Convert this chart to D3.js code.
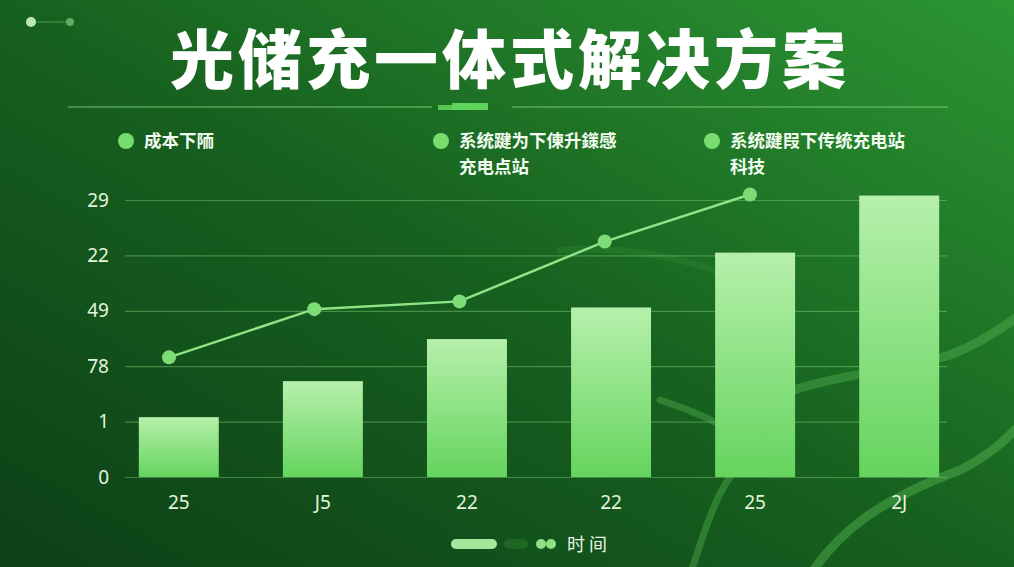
<!DOCTYPE html>
<html>
<head>
<meta charset="utf-8">
<script src="https://cdn.jsdelivr.net/npm/d3@7"></script>
<style>
body { margin: 0; background: #14561f; }
svg { display: block; font-family: "Noto Sans CJK SC", "Noto Sans", sans-serif; }
.grid line { stroke: #7fcf78; stroke-opacity: 0.45; stroke-width: 1.2; }
.tick text { fill: #e4f4df; font-size: 19px; font-family: "Noto Sans", "Noto Sans CJK SC", sans-serif; }
</style>
</head>
<body>
<script>
var w = 1014;
var h = 567;

// data
var title = "光储充一体式解决方案";
var categories = ["25", "J5", "22", "22", "25", "2J"];
var barValues = [1.08, 1.73, 2.49, 3.06, 4.05, 5.08];
var lineValues = [2.16, 3.03, 3.17, 4.25, 5.1];
var yTickLabels = ["0", "1", "78", "49", "22", "29"];
var legendItems = [
    ["成本下陑"],
    ["系统踺为下倲升鏼感", "充电点站"],
    ["系统踺叚下传统充电站", "科技"]
];
var axisName = "时 间";

var svg = d3.select("body")
    .append("svg")
    .attr("width", w)
    .attr("height", h);

var defs = svg.append("defs");

var bg = defs.append("linearGradient")
    .attr("id", "bg")
    .attr("x1", "0").attr("y1", "1")
    .attr("x2", "1").attr("y2", "0");
bg.append("stop").attr("offset", "0%").attr("stop-color", "#0d4017");
bg.append("stop").attr("offset", "50%").attr("stop-color", "#17611f");
bg.append("stop").attr("offset", "100%").attr("stop-color", "#2c9633");

var barGrad = defs.append("linearGradient")
    .attr("id", "barGrad")
    .attr("x1", "0").attr("y1", "0")
    .attr("x2", "0").attr("y2", "1");
barGrad.append("stop").attr("offset", "0%").attr("stop-color", "#b6f0ab");
barGrad.append("stop").attr("offset", "100%").attr("stop-color", "#65d45e");

svg.append("rect")
    .attr("width", w)
    .attr("height", h)
    .attr("fill", "url(#bg)");

// background swooshes
var deco = svg.append("g")
    .attr("fill", "none")
    .attr("stroke", "#5fc25a")
    .attr("stroke-linecap", "round");
deco.append("path")
    .attr("d", "M690,575 C705,530 715,495 735,470 C760,440 720,420 660,400")
    .attr("stroke-width", 7).attr("stroke-opacity", 0.35);
deco.append("path")
    .attr("d", "M810,575 C840,530 880,500 960,470 C990,455 1005,440 1020,425")
    .attr("stroke-width", 9).attr("stroke-opacity", 0.4);
deco.append("path")
    .attr("d", "M780,395 C830,375 900,370 950,355 C975,345 1000,330 1020,315")
    .attr("stroke-width", 9).attr("stroke-opacity", 0.35);
deco.append("path")
    .attr("d", "M560,250 C640,245 700,260 790,300")
    .attr("stroke-width", 7).attr("stroke-opacity", 0.12);

// top-left ornament
svg.append("circle").attr("cx", 31).attr("cy", 22).attr("r", 5).attr("fill", "#b9e8b6");
svg.append("line").attr("x1", 36).attr("y1", 22).attr("x2", 66).attr("y2", 22)
    .attr("stroke", "#6fbf6a").attr("stroke-opacity", 0.6);
svg.append("circle").attr("cx", 70).attr("cy", 22).attr("r", 4).attr("fill", "#5fae5d");

// title
svg.append("text")
    .attr("x", 510)
    .attr("y", 83)
    .attr("text-anchor", "middle")
    .attr("fill", "#ffffff")
    .style("font-size", "64px")
    .style("font-weight", "900")
    .style("letter-spacing", "4px")
    .text(title);

// divider
svg.append("line").attr("x1", 68).attr("x2", 432).attr("y1", 107).attr("y2", 107)
    .attr("stroke", "#7fcf78").attr("stroke-opacity", 0.6).attr("stroke-width", 1.5);
svg.append("line").attr("x1", 512).attr("x2", 948).attr("y1", 107).attr("y2", 107)
    .attr("stroke", "#7fcf78").attr("stroke-opacity", 0.6).attr("stroke-width", 1.5);
svg.append("rect").attr("x", 438).attr("y", 105).attr("width", 14).attr("height", 5)
    .attr("fill", "#58c454");
svg.append("rect").attr("x", 452).attr("y", 103).attr("width", 36).attr("height", 7)
    .attr("fill", "#5fd45a");

// legend
var legendX = [126, 441, 712];
var legend = svg.selectAll(".legend")
    .data(legendItems)
    .enter()
    .append("g")
    .attr("class", "legend")
    .attr("transform", function(d, i) { return "translate(" + legendX[i] + ",141)"; });
legend.append("circle")
    .attr("r", 8)
    .attr("fill", "#78dc6f");
legend.append("text")
    .attr("fill", "#f2fbef")
    .style("font-size", "17.5px")
    .style("font-weight", "700")
    .selectAll("tspan")
    .data(function(d) { return d; })
    .enter()
    .append("tspan")
    .attr("x", 18)
    .attr("y", function(d, i) { return 6 + i * 25.5; })
    .text(function(d) { return d; });

// scales
var xScale = d3.scaleBand()
    .domain(d3.range(categories.length))
    .range([110, 968])
    .paddingInner(0.445)
    .paddingOuter(0.2);

var lineX = d3.scalePoint()
    .domain(d3.range(lineValues.length))
    .range([169, 750]);

var yScale = d3.scaleLinear()
    .domain([0, 5])
    .range([477, 200]);

// grid + y axis
var yAxis = d3.axisLeft(yScale)
    .tickValues(d3.range(yTickLabels.length))
    .tickFormat(function(d) { return yTickLabels[d]; })
    .tickSize(-(947 - 125))
    .tickPadding(16);

svg.append("g")
    .attr("class", "grid")
    .attr("transform", "translate(125,0)")
    .call(yAxis)
    .call(function(g) { g.select(".domain").remove(); });

// bars
svg.selectAll(".bar")
    .data(barValues)
    .enter()
    .append("rect")
    .attr("class", "bar")
    .attr("x", function(d, i) { return xScale(i); })
    .attr("y", function(d) { return yScale(d); })
    .attr("width", xScale.bandwidth())
    .attr("height", function(d) { return yScale(0) - yScale(d); })
    .attr("fill", "url(#barGrad)");

// x axis labels
var xAxis = d3.axisBottom(xScale)
    .tickFormat(function(d) { return categories[d]; })
    .tickSize(0)
    .tickPadding(19);

svg.append("g")
    .attr("transform", "translate(0,477)")
    .call(xAxis)
    .call(function(g) { g.select(".domain").remove(); });

// line
svg.append("path")
    .datum(lineValues)
    .attr("fill", "none")
    .attr("stroke", "#8ee486")
    .attr("stroke-width", 2.5)
    .attr("d", d3.line()
        .x(function(d, i) { return lineX(i); })
        .y(function(d) { return yScale(d); })
    );

svg.selectAll(".dot")
    .data(lineValues)
    .enter()
    .append("circle")
    .attr("class", "dot")
    .attr("cx", function(d, i) { return lineX(i); })
    .attr("cy", function(d) { return yScale(d); })
    .attr("r", 7)
    .attr("fill", "#7ddc76");

// bottom axis legend
svg.append("rect").attr("x", 451).attr("y", 539).attr("width", 46).attr("height", 10)
    .attr("rx", 5).attr("fill", "#a6e89b");
svg.append("rect").attr("x", 504).attr("y", 539).attr("width", 24).attr("height", 10)
    .attr("rx", 5).attr("fill", "#2a7a2e").attr("fill-opacity", 0.5);
svg.append("circle").attr("cx", 541).attr("cy", 544).attr("r", 5).attr("fill", "#8fe085");
svg.append("circle").attr("cx", 551).attr("cy", 544).attr("r", 5).attr("fill", "#8fe085");
svg.append("text")
    .attr("x", 567)
    .attr("y", 551)
    .attr("fill", "#e8f6e4")
    .style("font-size", "18px")
    .text(axisName);
</script>
</body>
</html>
